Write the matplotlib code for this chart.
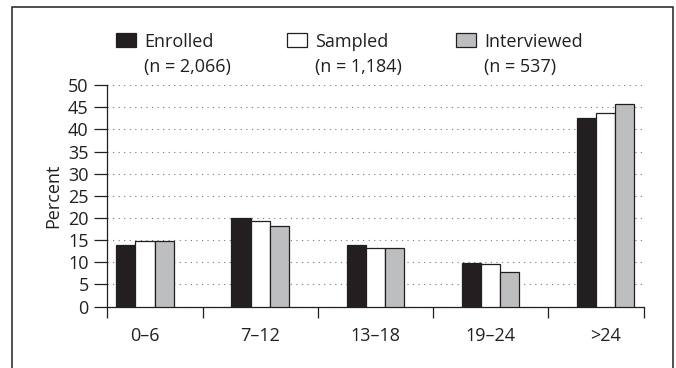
import numpy as np
import matplotlib
matplotlib.use("Agg")
import matplotlib.pyplot as plt
from matplotlib.patches import Rectangle

plt.rcParams['font.family'] = ['Open Sans', 'DejaVu Sans']
plt.rcParams['font.size'] = 13

# data
categories = ['0\u20136', '7\u201312', '13\u201318', '19\u201324', '>24']
enrolled = [14.0, 20.0, 13.9, 9.9, 42.7]
sampled = [14.9, 19.4, 13.3, 9.6, 43.7]
interviewed = [14.9, 18.2, 13.3, 7.9, 45.8]
series_names = ['Enrolled', 'Sampled', 'Interviewed']
series_n = ['(n = 2,066)', '(n = 1,184)', '(n = 537)']
series_colors = ['#231f20', '#ffffff', '#bcbec0']
edge = '#231f20'

W, H = 676, 368
fig = plt.figure(figsize=(W / 100, H / 100), dpi=100)
ax = fig.add_axes([106.7 / W, 1 - 306.5 / H, (644 - 106.7) / W, (306.5 - 85.2) / H])

x = np.arange(len(categories))
bw = 1 / 6
for i, vals in enumerate([enrolled, sampled, interviewed]):
    ax.bar(x + (i - 1) * bw, vals, width=bw, color=series_colors[i],
           edgecolor=edge, linewidth=0.9, zorder=3)

ax.set_xlim(-1 / 3, len(categories) - 1 + 1 / 3)
ax.set_ylim(0, 50)
ax.set_yticks(np.arange(0, 51, 5))
ax.set_xticks(x)
ax.set_xticklabels(categories)
ax.set_xticks(list(np.arange(0.5, len(categories) - 1, 1)) + [-1 / 3, len(categories) - 1 + 1 / 3], minor=True)
ax.tick_params(axis='x', which='major', length=0, pad=15, colors='#231f20')
ax.tick_params(axis='x', which='minor', length=8, width=0.9, direction='out', color='#231f20')
ax.tick_params(axis='y', length=9.5, width=0.9, direction='out', pad=3.5, colors='#231f20')

ax.yaxis.grid(True, linestyle=(0, (1, 4)), linewidth=0.8, color='#777777', zorder=0)
ax.set_axisbelow(True)
for s in ['top', 'right']:
    ax.spines[s].set_visible(False)
for s in ['left', 'bottom']:
    ax.spines[s].set_linewidth(0.9)
    ax.spines[s].set_color('#231f20')

ax.set_ylabel('Percent', color='#231f20', labelpad=4)

# legend drawn by hand: box left edge, text left edge (pixels)
box_x = [116, 286.7, 455.7]
text_x = [144.3, 315, 484]
for i in range(3):
    fig.add_artist(Rectangle((box_x[i] / W, 1 - 46.7 / H), 20 / W, 13.4 / H,
                             transform=fig.transFigure, facecolor=series_colors[i],
                             edgecolor=edge, linewidth=0.9))
    fig.text(text_x[i] / W, 1 - 46.7 / H, series_names[i], ha='left', va='baseline', color='#231f20')
    fig.text(text_x[i] / W, 1 - 71.7 / H, series_n[i], ha='left', va='baseline', color='#231f20')

# outer frame
fig.add_artist(Rectangle((12.3 / W, -0.05), (673 - 12.3) / W, 1.05 - 7.3 / H,
                         transform=fig.transFigure, fill=False, edgecolor='#231f20', linewidth=1.1))

fig.savefig('out.png', dpi=100)
